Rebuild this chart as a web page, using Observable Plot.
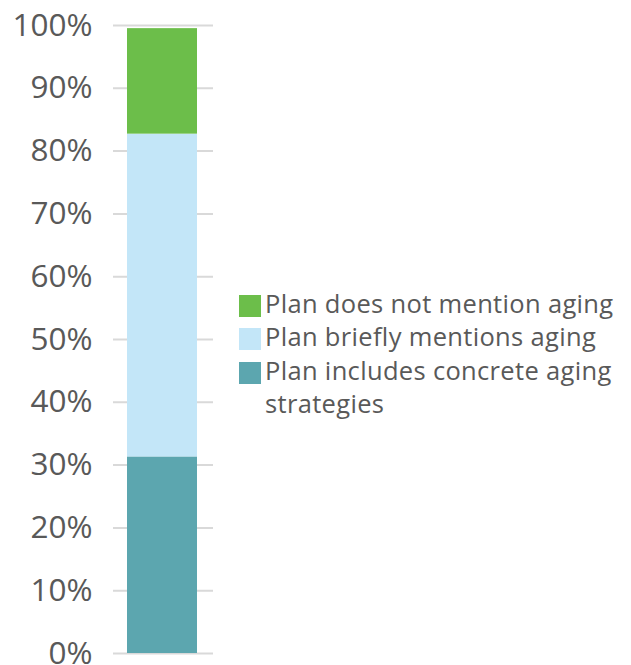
<!DOCTYPE html>
<html>
<head>
<meta charset="utf-8">
<script src="https://cdn.jsdelivr.net/npm/d3@7"></script>
<script src="https://cdn.jsdelivr.net/npm/@observablehq/plot@0.6"></script>
<style>
  html, body { margin: 0; padding: 0; background: #fff; }
  #wrap { position: relative; width: 631px; height: 665px; font-family: "Open Sans", sans-serif; }
  #legend { position: absolute; left: 239px; top: 287px; width: 390px; color: #595959; font-size: 25.5px; line-height: 33.3px; letter-spacing: 0.33px; }
  .item { display: flex; align-items: flex-start; }
  .sw { width: 22px; height: 22px; flex: none; margin-top: 8px; margin-right: 4px; }
  .lab { width: 360px; }
</style>
</head>
<body>
<div id="wrap"></div>
<script>
// Data
const categories = ["Plan includes concrete aging strategies", "Plan briefly mentions aging", "Plan does not mention aging"];
const shares = [0.313, 0.514, 0.168];
const colors = ["#5ca6af", "#c3e6f8", "#6cbe4a"];
const tickValues = [0, 0.1, 0.2, 0.3, 0.4, 0.5, 0.6, 0.7, 0.8, 0.9, 1.0];
const legendOrder = ["Plan does not mention aging", "Plan briefly mentions aging", "Plan includes concrete aging strategies"];

const rows = categories.map((c, i) => ({group: "All", category: c, value: shares[i], order: i}));

const chart = Plot.plot({
  width: 631,
  height: 665,
  marginTop: 25,
  marginBottom: 12,
  marginLeft: 113,
  marginRight: 418,
  style: {fontFamily: "Open Sans, sans-serif", background: "#fff", overflow: "visible"},
  x: {domain: ["All"], padding: 0, axis: null},
  y: {domain: [0, 1], ticks: tickValues},
  color: {domain: categories, range: colors},
  marks: [
    Plot.ruleY(tickValues, {stroke: "#d9d9d9", strokeWidth: 2}),
    Plot.barY(rows, Plot.stackY({order: "order", x: "group", y: "value", fill: "category", insetLeft: 14, insetRight: 16})),
    Plot.axisY({ticks: tickValues, tickSize: 0, tickPadding: 21, tickFormat: d => `${Math.round(d * 100)}%`, fontSize: 31.5, fill: "#595959", label: null})
  ]
});

const wrap = document.getElementById("wrap");
wrap.appendChild(chart);

const legend = document.createElement("div");
legend.id = "legend";
legendOrder.forEach(name => {
  const idx = categories.indexOf(name);
  const item = document.createElement("div");
  item.className = "item";
  const sw = document.createElement("div");
  sw.className = "sw";
  sw.style.background = colors[idx];
  const lab = document.createElement("div");
  lab.className = "lab";
  lab.textContent = name;
  item.appendChild(sw);
  item.appendChild(lab);
  legend.appendChild(item);
});
wrap.appendChild(legend);
</script>
</body>
</html>
